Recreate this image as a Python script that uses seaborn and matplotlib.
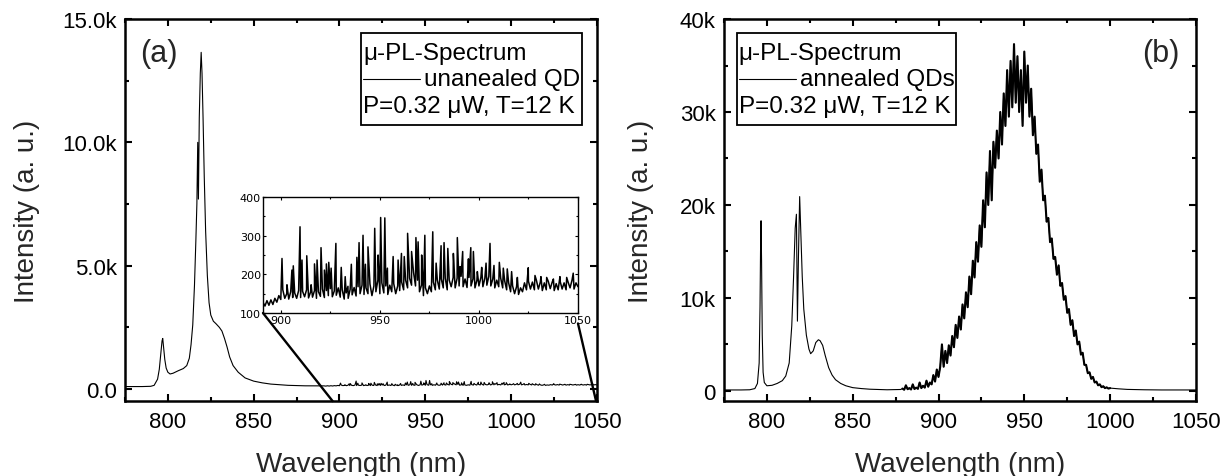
import numpy as np
import pandas as pd
import matplotlib
matplotlib.use("Agg")
import matplotlib.pyplot as plt
import seaborn as sns
from matplotlib.ticker import MultipleLocator, FuncFormatter
from matplotlib.patches import ConnectionPatch
from matplotlib.offsetbox import AnchoredOffsetbox, VPacker, HPacker, TextArea, DrawingArea
from matplotlib.lines import Line2D

# ---------------- data ----------------
# (a) unannealed QD: smooth part
ua_nm = [775, 785, 790, 792, 794, 795, 796, 796.6, 797.0, 797.5,
         798.2, 799, 800, 801.3, 803, 806, 809, 811, 812.5, 813.5,
         814.5, 815.5, 816.3, 816.9, 817.4, 817.8, 818.3, 818.9, 819.4, 819.9,
         820.5, 821.2, 822, 823, 824, 825, 826.5, 828, 830, 831.5,
         833, 834.5, 836, 838, 841, 845, 850, 855, 860, 870,
         880, 890]
ua_int = [100, 100, 110, 150, 400, 800, 1500, 1950, 2050, 1700,
          1200, 850, 680, 610, 640, 740, 830, 950, 1250, 1800,
          2600, 4200, 6000, 7500, 10000, 7700, 11000, 12800, 13650, 12800,
          11000, 8600, 6400, 4600, 3500, 3000, 2750, 2650, 2500, 2350,
          2050, 1700, 1300, 950, 680, 450, 320, 250, 200, 150,
          130, 125]
# (a) noisy background, 1 nm grid from 891 to 1050 nm
ua_noise_start, ua_noise_stop = 891, 1050
ua_noise_int = [128, 118, 132, 120, 134, 122, 138, 128, 145, 135,
                160, 138, 150, 136, 155, 140, 152, 138, 158, 140,
                156, 142, 160, 139, 154, 141, 158, 138, 155, 143,
                162, 140, 158, 145, 163, 142, 157, 146, 165, 141,
                160, 136, 152, 138, 161, 147, 166, 144, 168, 150,
                172, 148, 165, 150, 175, 145, 170, 155, 185, 150,
                178, 152, 170, 148, 172, 155, 176, 150, 170, 158,
                180, 160, 185, 165, 190, 172, 205, 170, 185, 155,
                172, 145, 165, 150, 170, 155, 180, 160, 185, 162,
                188, 165, 190, 160, 185, 168, 192, 165, 190, 170,
                195, 168, 188, 166, 192, 170, 188, 165, 185, 170,
                192, 168, 190, 172, 195, 170, 188, 165, 185, 168,
                190, 165, 183, 160, 178, 155, 170, 150, 168, 148,
                165, 155, 178, 160, 182, 162, 180, 160, 185, 162,
                180, 158, 178, 160, 182, 163, 180, 158, 176, 160,
                182, 162, 178, 160, 180, 165, 185, 162, 178, 168]
# (a) sharp QD lines
ua_spike_nm = [900.6, 903.1, 905.6, 906.3, 909.7, 910.7, 913.1, 915.3, 917.0, 918.3,
               920.3, 922.0, 923.0, 924.2, 925.4, 927.8, 930.5, 932.5, 933.9, 935.6,
               938.4, 939.5, 941.5, 942.7, 944.0, 947.4, 949.1, 950.4, 952.5, 953.8,
               956.7, 959.2, 960.9, 962.3, 964.0, 966.0, 968.2, 969.3, 971.1, 972.7,
               976.7, 978.4, 980.9, 982.4, 984.3, 987.1, 989.1, 990.5, 991.8, 994.7,
               995.9, 997.2, 999.2, 1001.4, 1003.6, 1005.6, 1007.6, 1010.3, 1012.3, 1014.3,
               1016.5, 1019.4, 1024.9, 1028.3, 1031.3, 1034.2, 1037.6, 1040.9, 1044.3, 1047.6]
ua_spike_int = [241, 173, 211, 222, 323, 237, 248, 173, 227, 237,
                269, 211, 227, 231, 216, 280, 218, 194, 169, 226,
                244, 282, 301, 226, 271, 319, 250, 347, 346, 216,
                246, 237, 254, 246, 306, 259, 295, 284, 250, 301,
                310, 229, 274, 282, 267, 254, 295, 220, 259, 240,
                269, 259, 207, 218, 229, 280, 223, 231, 216, 214,
                207, 192, 217, 197, 194, 192, 188, 194, 192, 203]

# (b) annealed QDs: smooth part
an_nm = [775, 785, 790, 793, 794.5, 795.5, 796.0, 796.3, 796.6, 796.9,
         797.3, 797.8, 798.5, 800, 803, 806, 809, 811, 813, 814.5,
         815.5, 816.5, 817.2, 817.8, 818.4, 819.1, 819.8, 820.6, 821.5, 823,
         824.5, 825.5, 827, 828.5, 830, 831, 832.5, 834, 836, 838,
         840, 843, 846, 850, 855, 860, 870, 878]
an_int = [100, 100, 120, 250, 800, 3000, 9000, 15000, 18300, 14000,
          6000, 2000, 900, 550, 600, 800, 1100, 1600, 3000, 7000,
          12000, 17500, 19000, 7500, 14500, 20900, 17000, 12300, 8800, 6000,
          4500, 4000, 4300, 5200, 5500, 5400, 4900, 3800, 2500, 1700,
          1200, 800, 550, 350, 250, 180, 120, 150]
# (b) noisy ensemble band, 1 nm grid from 879 to 1000 nm
an_noise_start, an_noise_stop = 879, 1000
an_noise_int = [250, 120, 600, 180, 300, 150, 700, 200, 350, 220,
                900, 300, 550, 350, 1100, 450, 900, 700, 1700, 1000,
                2300, 1500, 2600, 5000, 2600, 4300, 3000, 4900, 3800, 5900,
                4700, 7100, 5700, 8000, 6600, 9300, 7800, 10600, 9000, 12300,
                10400, 14000, 12200, 16000, 13900, 17800, 15500, 20500, 17600, 23500,
                20000, 25800, 20500, 26800, 24000, 28000, 25000, 30000, 26500, 32000,
                28500, 34500, 29500, 35500, 30500, 37300, 31000, 36000, 30000, 34500,
                28500, 36500, 31000, 35000, 29500, 32500, 27500, 29500, 25500, 26500,
                22500, 23800, 20500, 21000, 18200, 18600, 16000, 16400, 14200, 14400,
                12500, 13500, 11300, 11600, 9800, 10200, 8400, 8800, 7100, 7600,
                5900, 6500, 5000, 5300, 3900, 4100, 2800, 2800, 1900, 2000,
                1300, 1500, 900, 1000, 600, 700, 400, 500, 300, 380,
                250, 300]
an_tail_nm = [1005, 1010, 1020, 1030, 1040, 1050]
an_tail_int = [220, 160, 120, 100, 100, 100]

legend_title = "μ-PL-Spectrum"
legend_cond = "P=0.32 μW, T=12 K"
label_a = "unanealed QD"
label_b = "annealed QDs"
x_ticks = [800, 850, 900, 950, 1000, 1050]

# ---------------- assemble series ----------------
ua_x = np.concatenate([ua_nm, np.arange(ua_noise_start, ua_noise_stop + 1), ua_spike_nm]).astype(float)
ua_y = np.concatenate([ua_int, ua_noise_int, ua_spike_int]).astype(float)
o = np.argsort(ua_x, kind="stable")
df_a = pd.DataFrame({"nm": ua_x[o], "I": ua_y[o]})

an_x = np.concatenate([an_nm, np.arange(an_noise_start, an_noise_stop + 1), an_tail_nm]).astype(float)
an_y = np.concatenate([an_int, an_noise_int, an_tail_int]).astype(float)
o = np.argsort(an_x, kind="stable")
df_b = pd.DataFrame({"nm": an_x[o], "I": an_y[o]})
df_b_band = pd.DataFrame({"nm": np.arange(an_noise_start, an_noise_stop + 1).astype(float),
                          "I": np.asarray(an_noise_int, dtype=float)})

# ---------------- style ----------------
sns.set_style("ticks")
plt.rcParams["font.family"] = ["Liberation Sans", "DejaVu Sans"]
plt.rcParams["axes.linewidth"] = 1.8

FS_TICK = 16
FS_LEG = 17.5
FS_LAB = 20
fig = plt.figure(figsize=(12.3, 4.77), dpi=100)
ax_a = fig.add_axes([0.1016, 0.157, 0.3837, 0.801])
ax_b = fig.add_axes([0.5886, 0.157, 0.3837, 0.801])


def style_main(ax):
    for s in ax.spines.values():
        s.set_visible(True)
        s.set_linewidth(1.8)
        s.set_color("k")
    ax.tick_params(which="both", direction="in", top=True, right=True,
                   width=1.5, colors="k", labelsize=FS_TICK)
    ax.tick_params(which="major", length=5)
    ax.tick_params(which="minor", length=3)
    ax.tick_params(axis="x", pad=7)
    ax.tick_params(axis="y", pad=6)
    ax.set_xlim(775, 1050)
    ax.set_xticks(x_ticks)
    ax.xaxis.set_minor_locator(MultipleLocator(25))
    ax.set_xlabel("Wavelength (nm)", fontsize=FS_LAB)
    ax.set_ylabel("Intensity (a. u.)", fontsize=FS_LAB)
    ax.grid(False)


def spec_box(ax, label, loc, anchor):
    top_sp = DrawingArea(1, 1.5, 0, 0)
    t1 = TextArea(legend_title, textprops=dict(size=FS_LEG, color="k"))
    da = DrawingArea(41, 10, 0, 0)
    da.add_artist(Line2D([0, 41], [5, 5], color="k", lw=0.8))
    t2 = TextArea(label, textprops=dict(size=FS_LEG, color="k"))
    row = HPacker(children=[da, t2], align="center", pad=0, sep=3)
    t3 = TextArea(legend_cond, textprops=dict(size=FS_LEG, color="k"))
    bot_sp = DrawingArea(1, 1.0, 0, 0)
    vp = VPacker(children=[top_sp, t1, row, t3, bot_sp], align="left", pad=0, sep=3.4)
    box = AnchoredOffsetbox(loc=loc, child=vp, pad=0.12, borderpad=0, frameon=True,
                            bbox_to_anchor=anchor, bbox_transform=ax.transAxes)
    box.patch.set_boxstyle("square", pad=0)
    box.patch.set_edgecolor("k")
    box.patch.set_linewidth(1.3)
    box.set_zorder(5)
    ax.add_artist(box)


# ---- panel (a)
sns.lineplot(data=df_a, x="nm", y="I", ax=ax_a, color="k", linewidth=0.8,
             estimator=None, sort=False)
style_main(ax_a)
ax_a.set_ylim(-490, 15000)
ax_a.yaxis.set_major_locator(MultipleLocator(5000))
ax_a.yaxis.set_minor_locator(MultipleLocator(2500))
ax_a.yaxis.set_major_formatter(FuncFormatter(lambda v, p: "0.0" if abs(v) < 1 else f"{v/1000:.1f}k"))
ax_a.text(0.032, 0.91, "(a)", transform=ax_a.transAxes, fontsize=22, ha="left", va="center")
spec_box(ax_a, label_a, "upper right", (0.968, 0.963))

# inset
ax_in = fig.add_axes([0.2138, 0.3417, 0.2561, 0.2432])
sns.lineplot(data=df_a, x="nm", y="I", ax=ax_in, color="k", linewidth=1.1,
             estimator=None, sort=False)
ax_in.set_xlim(891, 1050)
ax_in.set_ylim(100, 400)
ax_in.set_xticks([900, 950, 1000, 1050])
ax_in.set_yticks([100, 200, 300, 400])
ax_in.xaxis.set_minor_locator(MultipleLocator(25))
ax_in.yaxis.set_minor_locator(MultipleLocator(50))
for s in ax_in.spines.values():
    s.set_visible(True)
    s.set_linewidth(1.0)
    s.set_color("k")
ax_in.tick_params(which="both", direction="in", top=True, right=True, width=0.8,
                  colors="k", labelsize=8, pad=1.5)
ax_in.tick_params(which="major", length=2.5)
ax_in.tick_params(which="minor", length=1.5)
for lab in ax_in.get_xticklabels() + ax_in.get_yticklabels():
    lab.set_family("DejaVu Sans")
ax_in.set_xlabel("")
ax_in.set_ylabel("")
ax_in.grid(False)

ylo = ax_a.get_ylim()[0]
for xyA, xB in [((0.0, 0.0), 896.0), ((1.0, -0.09), 1049.5)]:
    cp = ConnectionPatch(xyA=xyA, coordsA=ax_in.transAxes, xyB=(xB, ylo), coordsB=ax_a.transData,
                         color="k", lw=1.7, zorder=6)
    fig.add_artist(cp)

# ---- panel (b)
sns.lineplot(data=df_b, x="nm", y="I", ax=ax_b, color="k", linewidth=0.8,
             estimator=None, sort=False)
sns.lineplot(data=df_b_band, x="nm", y="I", ax=ax_b, color="k", linewidth=1.5,
             estimator=None, sort=False)
style_main(ax_b)
ax_b.set_ylim(-1100, 40000)
ax_b.yaxis.set_major_locator(MultipleLocator(10000))
ax_b.yaxis.set_minor_locator(MultipleLocator(5000))
ax_b.yaxis.set_major_formatter(FuncFormatter(lambda v, p: "0" if abs(v) < 1 else f"{v/1000:.0f}k"))
ax_b.text(0.966, 0.91, "(b)", transform=ax_b.transAxes, fontsize=22, ha="right", va="center")
spec_box(ax_b, label_b, "upper left", (0.0275, 0.963))

ax_a.yaxis.set_label_coords(-0.18, 0.5)
ax_b.yaxis.set_label_coords(-0.148, 0.5)
ax_a.xaxis.set_label_coords(0.5, -0.13)
ax_b.xaxis.set_label_coords(0.5, -0.13)

fig.savefig("out.png", dpi=100, facecolor="white")
